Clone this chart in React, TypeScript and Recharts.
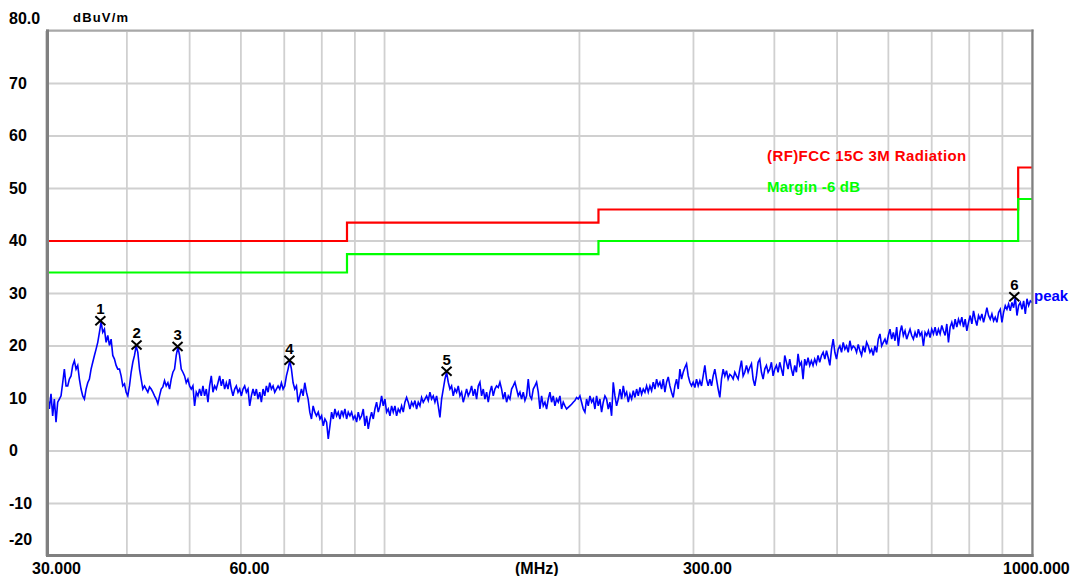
import React from "react";
import { ComposedChart, Line, Scatter, XAxis, YAxis, CartesianGrid } from "recharts";

const FONT = '"Liberation Sans", Arial, Helvetica, sans-serif';

const seg1From = 30;
const seg1To = 78.5;
const seg1Levels = [9.3,10.5,8,10.9,6.7,9.9,5.5,9.3,9.9,10.5,13,15.6,12.4,12.4,13.7,14.3,16.3,17.2,15.6,16.3,13.7,11.8,10.5,9.9,11.8,13,13.7,15.6,16.9,18.2,19.4,20.7,22.6,24.6,22.6,23.2,20.7,22,20.1,21.3,18.2,17.5,16.3,15.6,15.6,14.3,12.4,12.8,11.2,10.5,12.4,15,16.9,18.2,20,18.8,15.6,13.7,11.8,12.4,11.8,11.2,12.2,11.8,11.2,10.5,9.9,9,10.5,11.8,12.2,13.4,12.4,13,11.8,13.7,15,15.6,18.2,19.8,18.2,15.6,15,14.3,13,13.7,12.4,11.8,12.4,8.6,11.2,10.5,11.8,10.5,12.4,10.5,11.8,9.3,12.4,14.3,11.2,12.4,11.8,13,14.3,12.4,13.7,11.8,13,11.8,13.7,11.8,10.5,11.8,12.4,11.2,11.8,10.5,11.8,12.4,11.2,11.8,8.6,10.5,11.8,10.5,11.8,9.9,11.2,9.3,11.8,10.5,12.4,11.2,13,11.8,12.4,11.2,11.8,12.4,11.8,13,11.8,12.4,14.3,15.6,17.2,15.6,13,11.8,12.4,9.3,10.5,11.8,10.5,13,11.2,9.9,7.4,6.1,8.6,7.4,6.7];

const seg2From = 79;
const seg2To = 229.6;
const seg2Levels = [7.4,6.1,6.7,4.8,6.1,5.5,2.3,4.8,7.4,6.1,8,6.7,7.4,6.1,7.7,6.7,8,6.1,7.4,6.7,7.4,6.1,6.7,5.5,7.4,6.1,6.7,8,4.8,6.7,4.2,6.1,7.4,6.1,8,9.3,7.4,8.6,10.5,8.6,9.9,7.4,8,6.7,8.6,7.4,8.6,6.7,8,7.4,8.6,7.4,9.3,10.2,9.3,8,9.3,8.6,9.6,8,9.3,8.6,10.2,9.3,9.9,10.5,9.6,11.2,9.9,10.5,9.3,10.5,8.6,6.4,9.9,11.8,13.7,15.0,13.1,11.8,12.4,10.5,11.8,11.2,12.4,10.5,11.2,9.3,10.5,11.8,10.5,11.2,12.4,10.5,11.8,9.9,12.4,13.1,10.5,11.8,9.9,11.2,9.3,11.2,12.4,10.5,11.8,12.4,12.1,13.1,11.8,9.9,11.2,9.3,10.5,9.9,11.8,12.4,13.1,11.8,10.5,11.2,9.9,11.2,9.6,10.5,13.7,10.5,9.9,11.8,12.4,13.1,11.2,8,10.5,8.6,9.3,8,9.9,11.2,9.3,10.5,8.6,9.9,9.3,10.5,8,9.3,8.6,8,8.3,8.6,8.9,9.3,9.6,10.2,9.9,10.5,9.3,8,7.4,9.9,8.6,10.5,9.3,9.9,8,10.5,8.6,9.9,7.4,9.3,10.5,9.9,8,9.3,6.7,13.1,10.5,8.6,9.9];

const seg3From = 231;
const seg3To = 470;
const seg3Levels = [11.8,9.9,12.4,10.5,11.2,9.3,10.8,9.9,11.5,10.2,11.8,10.5,12.1,10.8,11.8,11.2,12.4,11.2,12.4,11.5,13.1,11.8,13.7,12.4,13.1,11.8,13.7,11.2,13.1,14.1,12.4,11.2,10.2,12.4,13.7,11.8,15.6,13.7,15,15.9,16.6,14.3,13.1,12.4,13.1,12.1,13.7,12.4,13.4,12.4,14.3,16.3,13.7,12.4,13.7,12.4,14.3,15.6,13.7,11.8,10.2,13.7,15.6,14.3,15.3,13.7,14.6,14.3,13.7,15,14.3,13.7,15.6,17.2,14.3,15,16.3,15,15.9,16.6,13.7,12.4,14.3,16.9,17.5,15,13.7,15.6,16.3,15,15.6,16.9,14.3,15.6,16.3,15,16.9,15.6,14.3,18.2,16.9,15.6,17.5,15.6,14.3,16.3,15,18.5,16.3,16.9,13.7,17.5,16.3,17.8,16.3,17.2,16.3,17.5,16.6,18.2,16.9];

const seg4From = 473;
const seg4To = 1000;
const seg4Levels = [18.2,18.8,17.5,19.1,17.8,16.3,19.4,21.3,18.8,17.5,19.4,20,18.8,20.7,19.4,20,18.8,21,19.4,20,19.7,18.8,20.3,19.1,18.2,20,18.8,20.7,20,18.8,19.4,18.2,20,18.8,21.3,22.3,20,20.7,21.3,20.3,22,23.2,21.3,22.6,21,23.6,20,22.6,23.9,22,22.9,21.3,22.3,23.2,22,21.3,22.6,21.6,23.2,22,22.6,20,22.6,22,22.9,21.6,23.2,22.3,23.6,22,23.2,22.3,23.9,22.9,22,24.2,20.7,23.6,24.5,23.2,25.1,23.6,25.1,24.2,25.5,23.6,25.1,22.9,24.5,25.8,24.2,26.7,25.1,23.9,25.8,25.1,26.1,24.5,25.8,27.3,25.8,25.1,26.1,24.8,25.5,24.5,26.4,27,24.5,26.4,27.7,27,28,26.7,28.3,27.3,29.3,25.8,27.7,28.3,27,28.6,26.1,29,27.7,28.6,28.3];

// Limit lines
const limitFreqs = [30, 87.5, 214, 952, 1000];
const limitLevels = [40, 43.5, 46, 54, 54];
const marginLevels = [34, 37.5, 40, 48, 48];

// Peak markers
const markerFreqs = [36.4, 41.4, 47.9, 71.3, 124.7, 939];
const markerLevels = [24.8, 20.2, 19.9, 17.3, 15.2, 29.4];
const markerNames = ["1", "2", "3", "4", "5", "6"];

// Axis ticks
const xTicks = [30, 40, 50, 60, 70, 80, 90, 100, 200, 300, 400, 500, 600, 700, 800, 900, 1000];
const xTickLabels: Record<number, string> = { 30: "30.000", 60: "60.00", 300: "300.00", 1000: "1000.000" };
const xTickShift: Record<number, number> = { 30: -14, 60: -11.5, 300: -10.5, 1000: -29 };
const yTicks = [-20, -10, 0, 10, 20, 30, 40, 50, 60, 70, 80];
const yTickLabels: Record<number, string> = { 80: "80.0" };

const segments = [
  { from: seg1From, to: seg1To, levels: seg1Levels },
  { from: seg2From, to: seg2To, levels: seg2Levels },
  { from: seg3From, to: seg3To, levels: seg3Levels },
  { from: seg4From, to: seg4To, levels: seg4Levels },
];

const traceData: { f: number; v: number }[] = [];
segments.forEach((s) => {
  const n = s.levels.length;
  s.levels.forEach((v, i) => {
    traceData.push({ f: s.from * Math.pow(s.to / s.from, i / (n - 1)), v });
  });
});

const limitData = limitFreqs.map((f, i) => ({ f, v: limitLevels[i] }));
const marginData = limitFreqs.map((f, i) => ({ f, v: marginLevels[i] }));
const markerData = markerFreqs.map((f, i) => ({ f, v: markerLevels[i], n: markerNames[i] }));

const XTick = (props: any) => {
  const { x, payload } = props;
  const val = payload?.value;
  const label = xTickLabels[val];
  if (!label) return <g />;
  return (
    <text x={x + xTickShift[val]} y={574} textAnchor="start" fontFamily={FONT} fontWeight="bold" fontSize={16} fill="#000">
      {label}
    </text>
  );
};

const YTick = (props: any) => {
  const { y, payload } = props;
  const val = payload?.value;
  const label = yTickLabels[val] ?? String(val);
  const dy = val === 80 ? -7 : val === -20 ? -11 : 5;
  return (
    <text x={9} y={y + dy} textAnchor="start" fontFamily={FONT} fontWeight="bold" fontSize={16} fill="#000">
      {label}
    </text>
  );
};

const MarkerShape = (p: any) => {
  const { cx, cy } = p;
  const name = p?.payload?.n ?? p?.n;
  return (
    <g>
      <line x1={cx - 5} y1={cy - 4.5} x2={cx + 5} y2={cy + 4.5} stroke="#000" strokeWidth={2} />
      <line x1={cx - 5} y1={cy + 4.5} x2={cx + 5} y2={cy - 4.5} stroke="#000" strokeWidth={2} />
      <text x={cx} y={cy - 6.5} textAnchor="middle" fontFamily={FONT} fontWeight="bold" fontSize={15} fill="#000">
        {name}
      </text>
    </g>
  );
};

export default function App() {
  return (
    <div style={{ position: "relative", width: 1078, height: 576, background: "#fff", overflow: "hidden" }}>
      <style>{"body{margin:0;background:#fff}"}</style>
      <ComposedChart width={1078} height={576} margin={{ top: 31, right: 46, bottom: 0, left: 0 }}>
        <CartesianGrid stroke="#d0d0d0" strokeWidth={1.8} />
        <XAxis
          dataKey="f"
          type="number"
          scale="log"
          domain={[30, 1000]}
          ticks={xTicks}
          interval={0}
          height={20}
          axisLine={false}
          tickLine={false}
          tick={(p: any) => <XTick {...p} />}
          allowDataOverflow
        />
        <YAxis
          type="number"
          domain={[-20, 80]}
          ticks={yTicks}
          interval={0}
          width={46}
          axisLine={false}
          tickLine={false}
          tick={(p: any) => <YTick {...p} />}
          allowDataOverflow
        />
        <Line data={limitData} dataKey="v" type="stepAfter" stroke="#ff0000" strokeWidth={2.2} dot={false} isAnimationActive={false} />
        <Line data={marginData} dataKey="v" type="stepAfter" stroke="#00ff00" strokeWidth={2.2} dot={false} isAnimationActive={false} />
        <Line data={traceData} dataKey="v" type="linear" stroke="#0000ff" strokeWidth={1.6} dot={false} isAnimationActive={false} />
        <Scatter data={markerData} dataKey="v" shape={MarkerShape} isAnimationActive={false} />
      </ComposedChart>
      <svg width={1078} height={576} style={{ position: "absolute", left: 0, top: 0, pointerEvents: "none" }}>
        <line x1={46} y1={30.5} x2={1033.5} y2={30.5} stroke="#a8a8a8" strokeWidth={2} />
        <line x1={1032.5} y1={29.5} x2={1032.5} y2={557} stroke="#808080" strokeWidth={2.2} />
        <line x1={46} y1={555.5} x2={1033.5} y2={555.5} stroke="#808080" strokeWidth={3} />
        <line x1={47.5} y1={29.5} x2={47.5} y2={557} stroke="#808080" strokeWidth={3} />
        <text x={73} y={22} fontFamily={FONT} fontWeight="bold" fontSize={13} letterSpacing={1.2} fill="#000">dBuV/m</text>
        <text x={515} y={574} fontFamily={FONT} fontWeight="bold" fontSize={16} fill="#000">(MHz)</text>
        <text x={767} y={160.7} fontFamily={FONT} fontWeight="bold" fontSize={15} letterSpacing={0.4} fill="#ff0000">(RF)FCC 15C 3M Radiation</text>
        <text x={767} y={191.5} fontFamily={FONT} fontWeight="bold" fontSize={15} letterSpacing={0.2} fill="#00ff00">Margin -6 dB</text>
        <text x={1034} y={301} fontFamily={FONT} fontWeight="bold" fontSize={15} fill="#0000ff">peak</text>
      </svg>
    </div>
  );
}
